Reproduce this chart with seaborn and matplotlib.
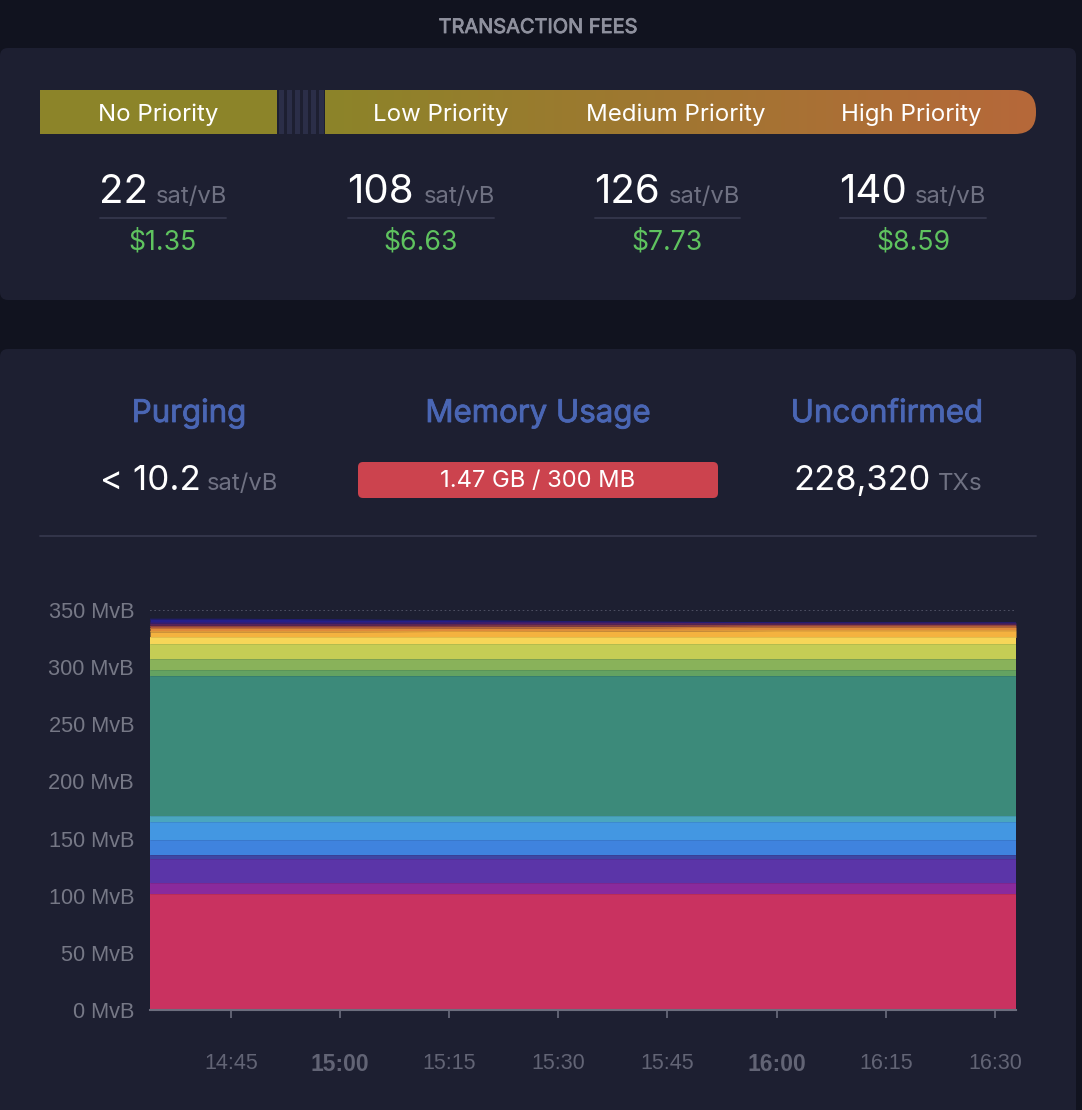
import numpy as np
import pandas as pd
import matplotlib
matplotlib.use("Agg")
import matplotlib.pyplot as plt
import matplotlib.patheffects as pe
import seaborn as sns
from matplotlib.colors import LinearSegmentedColormap, to_rgb
from matplotlib.patches import FancyBboxPatch, Rectangle

# minutes after 14:00
minutes = [33.9, 45, 60, 75, 90, 105, 120, 135, 152.9]

# mempool depth per fee band, bottom to top, in MvB
band_red = [101.5] * 9
band_magenta = [9.6] * 9
band_violet = [21.0] * 9
band_indigo = [3.5] * 9
band_blue = [13.1] * 9
band_sky = [15.8] * 9
band_cyan = [5.2] * 9
band_teal = [122.5] * 9
band_green = [5.3] * 9
band_olive = [9.5] * 9
band_lime = [13.2] * 9
band_yellow = [5.8] * 9
band_orange = [5.0, 5.0, 5.0, 5.2, 5.5, 5.7, 6.0, 6.0, 6.0]
band_amber = [3.0, 3.0, 3.0, 3.0, 2.9, 2.9, 3.0, 3.0, 3.0]
band_brown = [1.6, 1.6, 1.6, 1.6, 1.6, 1.6, 1.5, 1.5, 1.5]
band_maroon = [1.4, 1.4, 1.4, 1.4, 1.6, 1.6, 1.4, 1.3, 1.3]
band_purple = [1.6, 1.6, 1.6, 1.6, 1.7, 1.3, 0.9, 0.9, 0.9]
band_navy = [3.4, 3.4, 2.8, 2.0, 0.7, 0.3, 0.1, 0.1, 0.1]

bands = [band_red, band_magenta, band_violet, band_indigo, band_blue, band_sky,
         band_cyan, band_teal, band_green, band_olive, band_lime, band_yellow,
         band_orange, band_amber, band_brown, band_maroon, band_purple, band_navy]
band_colors = ["#c93260", "#8a2a9c", "#5b35a8", "#3f46a4", "#3f83de", "#4397e2",
               "#4aa6bf", "#3c8a7a", "#64a261", "#89b25a", "#c5cd55", "#f7d658",
               "#f4b23f", "#e08a3a", "#a8523f", "#6e2b50", "#4a2070", "#25208a"]

y_ticks = [0, 50, 100, 150, 200, 250, 300, 350]
x_ticks = [45, 60, 75, 90, 105, 120, 135, 150]
x_labels = ["14:45", "15:00", "15:15", "15:30", "15:45", "16:00", "16:15", "16:30"]
bold_labels = ["15:00", "16:00"]

priority_names = ["No Priority", "Low Priority", "Medium Priority", "High Priority"]
priority_x = [158, 441, 676, 911]
fee_rates = ["22", "108", "126", "140"]
fee_usd = ["$1.35", "$6.63", "$7.73", "$8.59"]

PAGE = "#11131f"
PANEL = "#1d1f31"
LINE = "#33354a"
GREY = "#6f7182"
BLUE = "#4a66b4"
GREEN = "#5fc35f"
AXIS_FONT = "Liberation Sans"

sns.set_theme(style="dark", rc={"axes.facecolor": "none", "figure.facecolor": PAGE})
plt.rcParams["font.family"] = ["Inter", "DejaVu Sans"]

fig = plt.figure(figsize=(10.82, 11.10), dpi=100)

# page layer works in reference pixels
page = fig.add_axes([0, 0, 1, 1])
page.set_xlim(0, 1082)
page.set_ylim(1110, 0)
page.axis("off")


def put(x, y, s, size, color="white", ha="left", va="baseline", heavy=False):
    t = page.text(x, y, s, fontsize=size, color=color, ha=ha, va=va, zorder=3)
    if heavy:
        # the installed Inter has no medium cut, so thicken it a little
        t.set_path_effects([pe.withStroke(linewidth=0.6, foreground=color)])
    return t


def panel(x0, y0, x1, y1, color, r=8, **kw):
    p = FancyBboxPatch((x0, y0), x1 - x0, y1 - y0, boxstyle=f"round,pad=0,rounding_size={r}",
                       fc=color, ec="none", **kw)
    page.add_patch(p)
    return p


panel(0, 48, 1076, 300, PANEL)
panel(0, 349, 1076, 1130, PANEL)
put(538, 28, "TRANSACTION FEES", 14.4, "#8f919e", ha="center", va="center", heavy=True)

# priority bar
page.add_patch(Rectangle((40, 90), 237, 44, fc="#8c8429", ec="none"))
for sx in range(277, 325, 8):
    page.add_patch(Rectangle((sx + 2, 90), 5, 44, fc="#2b2e48", ec="none"))
grad_cmap = LinearSegmentedColormap.from_list("fee", ["#8c8429", "#b6683a"])
grad = page.imshow(np.linspace(0, 1, 256).reshape(1, -1), cmap=grad_cmap, aspect="auto",
                   extent=(325, 1036, 134, 90), zorder=1)
clip = panel(300, 90, 1036, 134, "none", r=21)
grad.set_clip_path(clip)
page.set_xlim(0, 1082)
page.set_ylim(1110, 0)
for name, px in zip(priority_names, priority_x):
    put(px, 121, name, 17.3, ha="center")

# fee columns
rate_x = [99, 347, 594, 839]
unit_x = [156, 424, 669, 915]
line_start = [100, 348, 595, 840]
line_end = [226, 494, 740, 986]
usd_x = [163, 421, 667, 913]
for i in range(4):
    put(rate_x[i], 203, fee_rates[i], 29)
    put(unit_x[i], 203, "sat/vB", 17.2, GREY)
    page.plot([line_start[i], line_end[i]], [218, 218], color=LINE, lw=1.4)
    put(usd_x[i], 250, fee_usd[i], 19.2, GREEN, ha="center")

# stats row
put(189, 422, "Purging", 22.5, BLUE, ha="center", heavy=True)
put(538, 422, "Memory Usage", 22.5, BLUE, ha="center", heavy=True)
put(887, 422, "Unconfirmed", 22.5, BLUE, ha="center", heavy=True)
put(100, 490, "< 10.2", 25.2)
put(207, 490, "sat/vB", 17.2, GREY)
panel(358, 462, 718, 498, "#cc434e", r=5)
put(538, 487, "1.47 GB / 300 MB", 17.1, ha="center")
put(793, 490, "228,320", 24.8)
put(938, 490, "TXs", 17.4, GREY)
page.plot([40, 1036], [536, 536], color=LINE, lw=1.4)

# stacked chart
ax = fig.add_axes([150 / 1082, 100 / 1110, 866 / 1082, 400 / 1110])
tops = np.cumsum(np.array(bands), axis=0)
bottoms = np.vstack([np.zeros(len(minutes)), tops[:-1]])
for i, color in enumerate(band_colors):
    ax.fill_between(minutes, bottoms[i], tops[i], color=color, lw=0)

df = pd.DataFrame(tops.T, columns=band_colors)
df["minute"] = minutes
long_df = df.melt(id_vars="minute", var_name="band", value_name="top")
edge_palette = {c: tuple(np.array(to_rgb(c)) * 0.9) for c in band_colors}
sns.lineplot(data=long_df, x="minute", y="top", hue="band", palette=edge_palette,
             hue_order=band_colors, legend=False, linewidth=0.6, solid_capstyle="butt", ax=ax)

ax.axhline(350, color="#55576a", lw=1.2, ls=(0, (1, 1.6)))
ax.set_xlim(minutes[0], minutes[-1])
ax.set_ylim(0, 350)
ax.set_xlabel("")
ax.set_ylabel("")
ax.grid(False)
for side in ["top", "left", "right"]:
    ax.spines[side].set_visible(False)
ax.spines["bottom"].set_color("#6c6e7e")
ax.spines["bottom"].set_linewidth(1.5)

ax.set_yticks(y_ticks)
ax.set_yticklabels([f"{v} MvB" for v in y_ticks], fontsize=15.7, color="#767886",
                   fontfamily=AXIS_FONT)
ax.tick_params(axis="y", length=0, pad=11.5)
ax.set_xticks(x_ticks)
ax.set_xticklabels(x_labels, fontsize=15.5, color="#626475", fontfamily=AXIS_FONT)
ax.tick_params(axis="x", length=6, width=1.2, color="#6c6e7e", pad=25, bottom=True)
for lab in ax.get_xticklabels():
    if lab.get_text() in bold_labels:
        lab.set_fontweight("bold")
        lab.set_fontsize(16.5)

fig.savefig("out.png", dpi=100, facecolor=PAGE)
